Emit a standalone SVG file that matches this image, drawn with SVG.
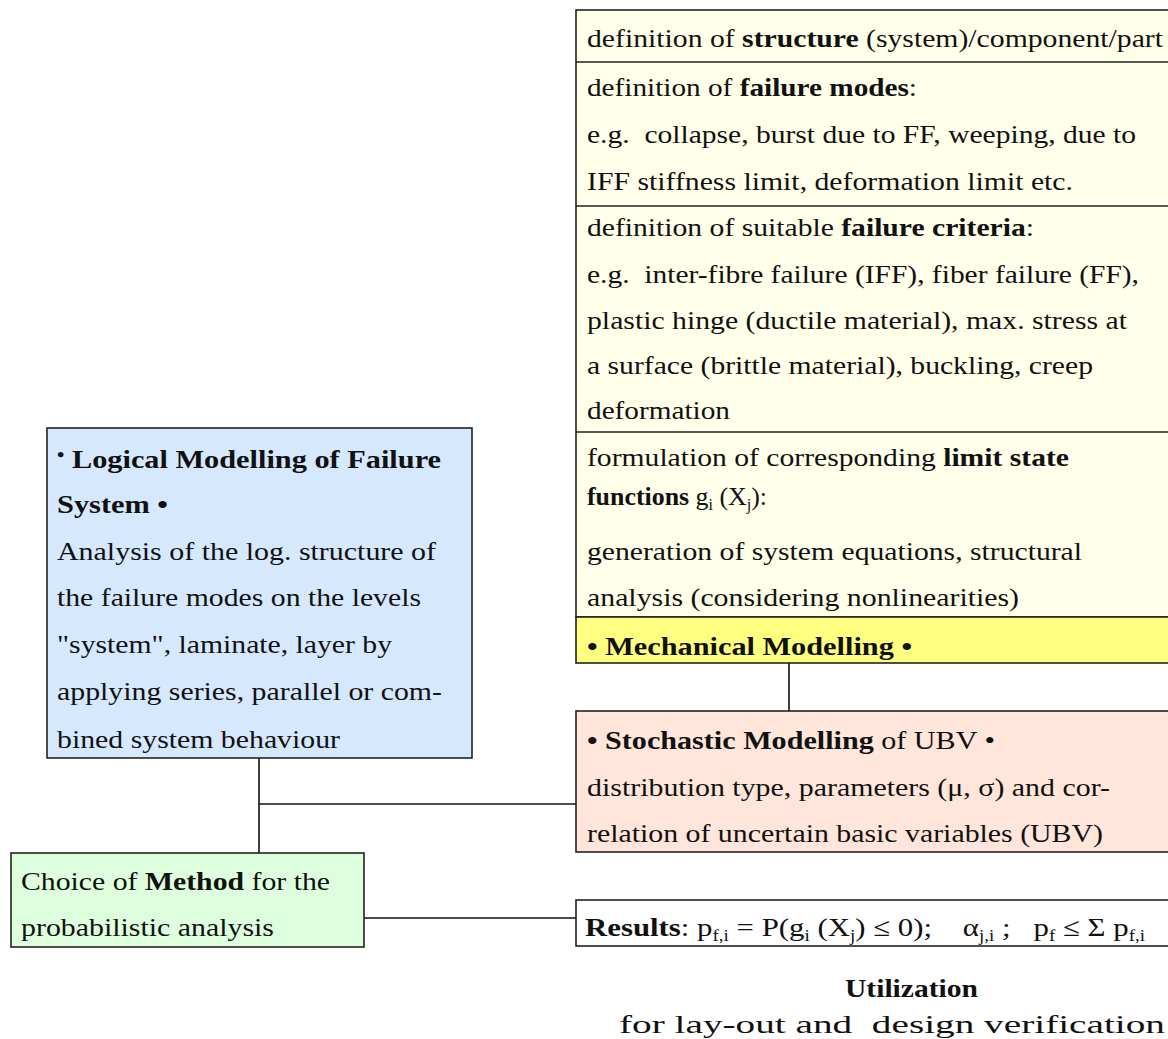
<svg xmlns="http://www.w3.org/2000/svg" width="1168" height="1039" viewBox="0 0 1168 1039">
  <style>
    text { font-family: "Liberation Serif", "Times New Roman", serif; font-size: 26px; fill: #111; }
    .b { font-weight: bold; }
    .sub { font-size: 16px; }
    .box { stroke: #222; stroke-width: 1.6; }
    .rule { stroke: #222; stroke-width: 1.6; fill: none; }
    .conn { stroke: #111; stroke-width: 1.6; fill: none; }
  </style>

  <!-- connectors -->
  <g id="connectors">
    <line class="conn" x1="259" y1="758" x2="259" y2="853"/>
    <line class="conn" x1="259" y1="804" x2="576" y2="804"/>
    <line class="conn" x1="789" y1="663" x2="789" y2="711"/>
    <line class="conn" x1="364" y1="918" x2="576" y2="918"/>
  </g>

  <!-- mechanical modelling table -->
  <g id="mechanical">
    <rect class="box" x="576" y="10" width="610" height="607" fill="#FFFFEA"/>
    <rect class="box" x="576" y="617" width="610" height="46" fill="#FFFF80"/>
    <line class="rule" x1="576" y1="62" x2="1180" y2="62"/>
    <line class="rule" x1="576" y1="206" x2="1180" y2="206"/>
    <line class="rule" x1="576" y1="432" x2="1180" y2="432"/>

    <text x="587" y="47" textLength="576" lengthAdjust="spacingAndGlyphs">definition of <tspan class="b">structure</tspan> (system)/component/part</text>

    <text x="587" y="96" textLength="330" lengthAdjust="spacingAndGlyphs">definition of <tspan class="b">failure modes</tspan>:</text>
    <text x="587" y="143" textLength="549" lengthAdjust="spacingAndGlyphs">e.g.&#160; collapse, burst due to FF, weeping, due to</text>
    <text x="587" y="190" textLength="486" lengthAdjust="spacingAndGlyphs">IFF stiffness limit, deformation limit etc.</text>

    <text x="587" y="236" textLength="447" lengthAdjust="spacingAndGlyphs">definition of suitable <tspan class="b">failure criteria</tspan>:</text>
    <text x="587" y="283" textLength="552" lengthAdjust="spacingAndGlyphs">e.g.&#160; inter-fibre failure (IFF), fiber failure (FF),</text>
    <text x="587" y="329" textLength="540" lengthAdjust="spacingAndGlyphs">plastic hinge (ductile material), max. stress at</text>
    <text x="587" y="374" textLength="506" lengthAdjust="spacingAndGlyphs">a surface (brittle material), buckling, creep</text>
    <text x="587" y="419" textLength="143" lengthAdjust="spacingAndGlyphs">deformation</text>

    <text x="587" y="466" textLength="482" lengthAdjust="spacingAndGlyphs">formulation of corresponding <tspan class="b">limit state</tspan></text>
    <text x="587" y="505" textLength="180" lengthAdjust="spacingAndGlyphs"><tspan class="b">functions</tspan> g<tspan class="sub" dy="5">i</tspan><tspan dy="-5"> (X</tspan><tspan class="sub" dy="5">j</tspan><tspan dy="-5">):</tspan></text>
    <text x="587" y="560" textLength="495" lengthAdjust="spacingAndGlyphs">generation of system equations, structural</text>
    <text x="587" y="606" textLength="432" lengthAdjust="spacingAndGlyphs">analysis (considering nonlinearities)</text>

    <text x="587" y="655" class="b" textLength="325" lengthAdjust="spacingAndGlyphs">• Mechanical Modelling •</text>
  </g>

  <!-- stochastic modelling -->
  <g id="stochastic">
    <rect class="box" x="576" y="711" width="610" height="141" fill="#FFE5DA"/>
    <text x="587" y="749" textLength="408" lengthAdjust="spacingAndGlyphs"><tspan class="b">• Stochastic Modelling</tspan> of UBV •</text>
    <text x="587" y="796" textLength="523" lengthAdjust="spacingAndGlyphs">distribution type, parameters (μ, σ) and cor-</text>
    <text x="587" y="842" textLength="516" lengthAdjust="spacingAndGlyphs">relation of uncertain basic variables (UBV)</text>
  </g>

  <!-- results -->
  <g id="results">
    <rect class="box" x="576" y="900" width="610" height="46" fill="#FFFFFF"/>
    <text x="585" y="936" textLength="560" lengthAdjust="spacingAndGlyphs"><tspan class="b">Results</tspan>: p<tspan class="sub" dy="5">f,i</tspan><tspan dy="-5"> = P(g</tspan><tspan class="sub" dy="5">i</tspan><tspan dy="-5"> (X</tspan><tspan class="sub" dy="5">j</tspan><tspan dy="-5">) ≤ 0);&#160;&#160;&#160; α</tspan><tspan class="sub" dy="5">j,i</tspan><tspan dy="-5"> ;&#160;&#160; p</tspan><tspan class="sub" dy="5">f</tspan><tspan dy="-5"> ≤ Σ p</tspan><tspan class="sub" dy="5">f,i</tspan></text>
  </g>

  <!-- utilization caption -->
  <g id="utilization">
    <text x="845" y="997" class="b" textLength="133" lengthAdjust="spacingAndGlyphs">Utilization</text>
    <text x="619" y="1033" textLength="546" lengthAdjust="spacingAndGlyphs">for lay-out and&#160; design verification</text>
  </g>

  <!-- logical modelling -->
  <g id="logical">
    <rect class="box" x="47" y="428" width="425" height="330" fill="#D5E8FD"/>
    <text x="57" y="468" textLength="384" lengthAdjust="spacingAndGlyphs"><tspan class="b" font-size="18" dy="-7">•</tspan><tspan class="b" dy="7"> Logical Modelling of Failure</tspan></text>
    <text x="57" y="513" class="b" textLength="111" lengthAdjust="spacingAndGlyphs">System •</text>
    <text x="57" y="560" textLength="379" lengthAdjust="spacingAndGlyphs">Analysis of the log. structure of</text>
    <text x="57" y="606" textLength="364" lengthAdjust="spacingAndGlyphs">the failure modes on the levels</text>
    <text x="57" y="653" textLength="335" lengthAdjust="spacingAndGlyphs">"system", laminate, layer by</text>
    <text x="57" y="700" textLength="385" lengthAdjust="spacingAndGlyphs">applying series, parallel or com-</text>
    <text x="57" y="748" textLength="283" lengthAdjust="spacingAndGlyphs">bined system behaviour</text>
  </g>

  <!-- method choice -->
  <g id="method">
    <rect class="box" x="11" y="853" width="353" height="94" fill="#DEFFDE"/>
    <text x="21" y="890" textLength="309" lengthAdjust="spacingAndGlyphs">Choice of <tspan class="b">Method</tspan> for the</text>
    <text x="21" y="936" textLength="253" lengthAdjust="spacingAndGlyphs">probabilistic analysis</text>
  </g>
</svg>
